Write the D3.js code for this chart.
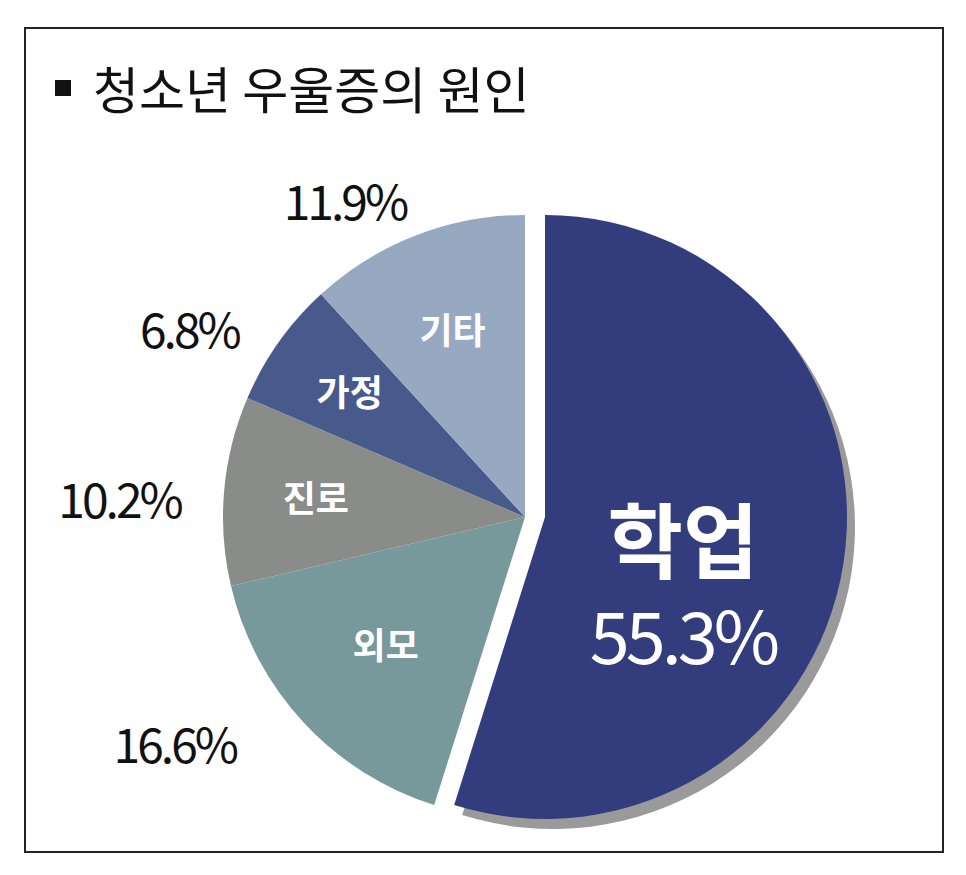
<!DOCTYPE html>
<html><head><meta charset="utf-8">
<script src="https://cdn.jsdelivr.net/npm/d3@7"></script>
<style>body{margin:0;background:#fff}</style></head>
<body><svg id="c" width="966" height="875"></svg>
<script>
// data
var causes = ["학업", "외모", "진로", "가정", "기타"];
var shares = [55.3, 16.6, 10.2, 6.8, 11.9];
var colors = ["#333d7d", "#77999b", "#898c89", "#48598b", "#97a8c1"];

var svg = d3.select("#c");
var font = "'Noto Sans CJK KR', 'Noto Sans', sans-serif";

svg.append("rect").attr("x", 25).attr("y", 28).attr("width", 918).attr("height", 824)
  .attr("fill", "#fff").attr("stroke", "#222").attr("stroke-width", 2);

svg.append("rect").attr("x", 55).attr("y", 80).attr("width", 16).attr("height", 16).attr("fill", "#111");
svg.append("text").attr("x", 93).attr("y", 109).attr("font-family", font).attr("font-size", 50)
  .attr("fill", "#111").text("청소년 우울증의 원인");

var cx = 525, cy = 517, r = 302;
var data = causes.map(function(c, i) { return {name: c, value: shares[i], color: colors[i]}; });
var pie = d3.pie().sort(null).value(function(d) { return d.value; });
var arcs = pie(data);
var arc = d3.arc().innerRadius(0).outerRadius(r);

var g = svg.append("g").attr("transform", "translate(" + cx + "," + cy + ")");

// exploded first slice with shadow
var big = arcs[0];
g.append("path").attr("d", arc(big)).attr("fill", "#9a9a9a")
  .attr("transform", "translate(28,10)");
g.selectAll("path.s").data(arcs).enter().append("path")
  .attr("class", "s")
  .attr("d", arc)
  .attr("fill", function(d) { return d.data.color; })
  .attr("transform", function(d, i) { return i === 0 ? "translate(20,0)" : null; });

// inside labels
var inRad = [0, 190, 210, 215, 200];
arcs.forEach(function(d, i) {
  if (i === 0) return;
  var p = d3.arc().innerRadius(inRad[i]).outerRadius(inRad[i]).centroid(d);
  g.append("text").attr("x", p[0]).attr("y", p[1] + 13).attr("text-anchor", "middle")
    .attr("font-family", font).attr("font-weight", "bold").attr("font-size", 36)
    .attr("fill", "#fff").text(d.data.name);
});

// outside percentages
var outRad = [0, 385, 395, 365, 345];
var nudgeX = [0, -68, -12, -38, -55];
var nudgeY = [0, -33, 18, 25, 8];
arcs.forEach(function(d, i) {
  if (i === 0) return;
  var p = d3.arc().innerRadius(outRad[i]).outerRadius(outRad[i]).centroid(d);
  g.append("text").attr("x", p[0] + nudgeX[i]).attr("y", p[1] + 17 + nudgeY[i]).attr("text-anchor", "middle")
    .attr("font-family", font).attr("font-size", 48).attr("letter-spacing", -3)
    .attr("fill", "#111").text(d.data.value.toFixed(1) + "%");
});

// big slice label
var pb = d3.arc().innerRadius(175).outerRadius(175).centroid(big);
g.append("text").attr("x", pb[0] - 15).attr("y", pb[1] + 28).attr("text-anchor", "middle")
  .attr("font-family", font).attr("font-weight", "bold").attr("font-size", 82)
  .attr("fill", "#fff").text(big.data.name);
g.append("text").attr("x", pb[0] - 15).attr("y", pb[1] + 120).attr("text-anchor", "middle")
  .attr("font-family", font).attr("font-size", 72).attr("letter-spacing", -4)
  .attr("fill", "#fff").text(big.data.value.toFixed(1) + "%");
</script></body></html>
